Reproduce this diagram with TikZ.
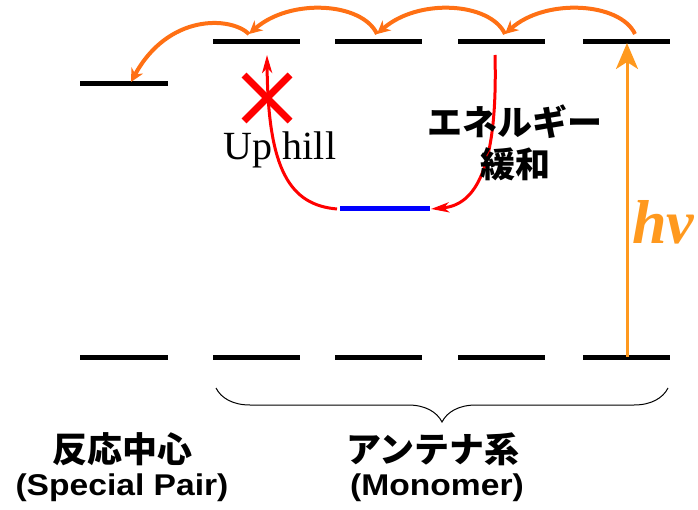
\documentclass[tikz,border=0pt]{standalone}
\usepackage{fontspec}
\setmainfont{Liberation Serif}
\setsansfont{Liberation Sans}[FakeStretch=1.12]
\newfontfamily\jpfont{Noto Sans CJK JP}
\usetikzlibrary{arrows.meta,decorations.pathreplacing}
\definecolor{hoporange}{RGB}{255,112,20}
\definecolor{lightorange}{RGB}{255,153,30}
\begin{document}
\begin{tikzpicture}[x=1pt, y=-1pt,
    level/.style={line width=5pt, black},
    hop/.style={line width=4pt, hoporange, -{Stealth[length=13pt,width=13pt,inset=4pt]}},
    relax/.style={line width=3pt, red, -{Stealth[length=18pt,width=10pt,inset=5pt]}},
    jplabel/.style={font=\jpfont\bfseries\fontsize{35}{42}\selectfont},
    enlabel/.style={font=\sffamily\bfseries\fontsize{30}{34}\selectfont}]
    \useasboundingbox (0,0) rectangle (698,510);

    % levels
    \draw[level] (80,84) -- (168,84);
    \draw[level] (80,357) -- (168,357);
    \foreach \i/\x in {1/213,2/335,3/458,4/583} {
      \draw[level] (\x,42) -- +(87,0);
      \draw[level] (\x,357) -- +(87,0);
    }
    \draw[line width=5pt, blue] (340,209) -- coordinate (trap) (430,209);

    % ends of the connectors
    \coordinate (rc) at (131,82);
    \coordinate (s4) at (635,34);
    \coordinate (s3) at (505,34);
    \coordinate (s2) at (377,34);
    \coordinate (s1) at (249,34);
    \coordinate (g4) at (627,357);
    \coordinate (e4) at (627,43);
    \coordinate (drop) at (495,55);
    \coordinate (trapR) at (431,209);
    \coordinate (trapL) at (337,209);
    \coordinate (up) at (267,55);

    % energy transfer
    \draw[hop] (s4) .. controls (620,2) and (545,-2) .. (s3);
    \draw[hop] (s3) .. controls (490,2) and (418,-2) .. (s2);
    \draw[hop] (s2) .. controls (362,2) and (290,-2) .. (s1);
    \draw[hop] (s1) .. controls (230,16) and (168,14) .. (rc);

    % excitation
    \draw[line width=3pt, lightorange, -{Stealth[length=26pt,width=22pt,inset=7pt]}] (g4) -- (e4);
    \node[lightorange, font=\bfseries\itshape\fontsize{62}{62}\selectfont, anchor=base] (hv) at (663,244) {hv};

    % relaxation and up hill
    \draw[relax] (drop) .. controls (498,170) and (475,205) .. (trapR);
    \draw[relax] (trapL) .. controls (290,205) and (268,170) .. (up);
    \coordinate (cross) at (267,98);
    \draw[red, line width=7pt] ([shift={(-23,-23)}]cross) -- ([shift={(23,23)}]cross);
    \draw[red, line width=7pt] ([shift={(23,-23)}]cross) -- ([shift={(-23,23)}]cross);
    \node[font=\fontsize{40}{42}\selectfont, anchor=base] (uphill) at (280,160) {Up hill};
    \node[jplabel, align=center] (relaxlabel) at (515,143) {エネルギー\\緩和};

    % brace
    \draw[line width=1pt, decorate, decoration={brace, mirror, amplitude=34pt}] (216,388) -- coordinate (bracemid) (668,388);

    % captions
    \node[jplabel] (rclabel) at (122,449) {反応中心};
    \node[enlabel] (sp) at (122,488) {(Special Pair)};
    \node[jplabel] (antlabel) at (433,449) {アンテナ系};
    \node[enlabel] (mono) at (437,488) {(Monomer)};
\end{tikzpicture}
\end{document}
